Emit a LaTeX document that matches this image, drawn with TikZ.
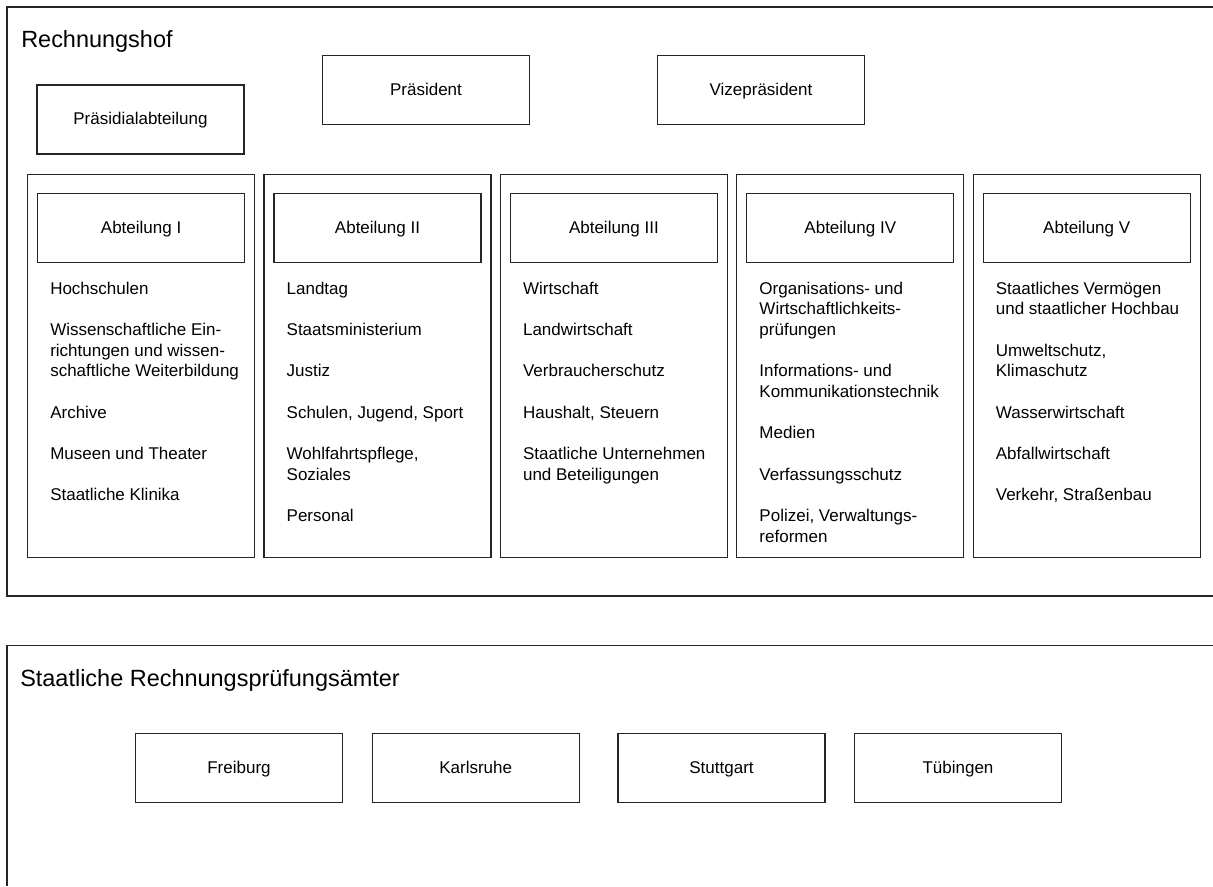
\documentclass[tikz,border=0pt]{standalone}
\usepackage{fontspec}
\setmainfont{Liberation Sans}
\usetikzlibrary{positioning}

\begin{document}
\begin{tikzpicture}[x=0.75pt,y=-0.75pt]
  \tikzstyle{frame}=[draw=black!85,line width=1pt]
  \tikzstyle{title}=[inner sep=0pt,anchor=base west,font=\fontsize{17.6pt}{21pt}\selectfont]
  \tikzstyle{box}=[rectangle,draw=black!85,line width=0.8pt,minimum width=155.25pt,
                   minimum height=51.75pt,inner sep=0pt,text height=0.72em,text depth=0pt,
                   font=\fontsize{12.75pt}{15.5pt}\selectfont]
  \tikzstyle{column}=[rectangle,draw=black!85,line width=0.9pt,minimum width=170.25pt,
                      minimum height=287.25pt,inner sep=0pt,anchor=north west]
  \tikzstyle{items}=[align=left,inner sep=0pt,anchor=north west,
                     font=\fontsize{12.75pt}{15.5pt}\selectfont]
  \useasboundingbox (0,0) rectangle (1213,886);

  % Rechnungshof
  \draw [frame] (1213,7) -- (7,7) -- (7,596) -- (1213,596);
  \node [title] (rh) at (21,47.5) {Rechnungshof};
  \node [box] (praesabt) at (140.5,119.5) {Präsidialabteilung};
  \node [box] (praes) at (426,90.3) {Präsident};
  \node [box] (vize) at (761,90.3) {Vizepräsident};

  \node [column] (colI) at (27,174) {};
  \node [box] (abtI) [below=14.5pt of colI.north] {Abteilung I};
  \node [items] (itemsI) at (50,279.5) {\strut Hochschulen\\[15.5pt]
    Wissenschaftliche Ein-\\richtungen und wissen-\\schaftliche Weiterbildung\\[15.5pt]
    Archive\\[15.5pt]
    Museen und Theater\\[15.5pt]
    Staatliche Klinika};

  \node [column] (colII) at (263.4,174) {};
  \node [box] (abtII) [below=14.5pt of colII.north] {Abteilung II};
  \node [items] (itemsII) at (286.4,279.5) {\strut Landtag\\[15.5pt]
    Staatsministerium\\[15.5pt]
    Justiz\\[15.5pt]
    Schulen, Jugend, Sport\\[15.5pt]
    Wohlfahrtspflege,\\Soziales\\[15.5pt]
    Personal};

  \node [column] (colIII) at (499.8,174) {};
  \node [box] (abtIII) [below=14.5pt of colIII.north] {Abteilung III};
  \node [items] (itemsIII) at (522.8,279.5) {\strut Wirtschaft\\[15.5pt]
    Landwirtschaft\\[15.5pt]
    Verbraucherschutz\\[15.5pt]
    Haushalt, Steuern\\[15.5pt]
    Staatliche Unternehmen\\und Beteiligungen};

  \node [column] (colIV) at (736.2,174) {};
  \node [box] (abtIV) [below=14.5pt of colIV.north] {Abteilung IV};
  \node [items] (itemsIV) at (759.2,279.5) {\strut Organisations- und\\Wirtschaftlichkeits-\\prüfungen\\[15.5pt]
    Informations- und\\Kommunikationstechnik\\[15.5pt]
    Medien\\[15.5pt]
    Verfassungsschutz\\[15.5pt]
    Polizei, Verwaltungs-\\reformen};

  \node [column] (colV) at (972.6,174) {};
  \node [box] (abtV) [below=14.5pt of colV.north] {Abteilung V};
  \node [items] (itemsV) at (995.6,279.5) {\strut Staatliches Vermögen\\und staatlicher Hochbau\\[15.5pt]
    Umweltschutz,\\Klimaschutz\\[15.5pt]
    Wasserwirtschaft\\[15.5pt]
    Abfallwirtschaft\\[15.5pt]
    Verkehr, Straßenbau};

  % Staatliche Rechnungspruefungsaemter
  \draw [frame] (1213,645.7) -- (7,645.7) -- (7,886);
  \node [title] (srpa) at (20,686) {Staatliche Rechnungsprüfungsämter};
  \node [box] (freiburg) at (239,768.3) {Freiburg};
  \node [box] (karlsruhe) at (475.7,768.3) {Karlsruhe};
  \node [box] (stuttgart) at (721.5,768.3) {Stuttgart};
  \node [box] (tuebingen) at (958,768.3) {Tübingen};
\end{tikzpicture}
\end{document}
